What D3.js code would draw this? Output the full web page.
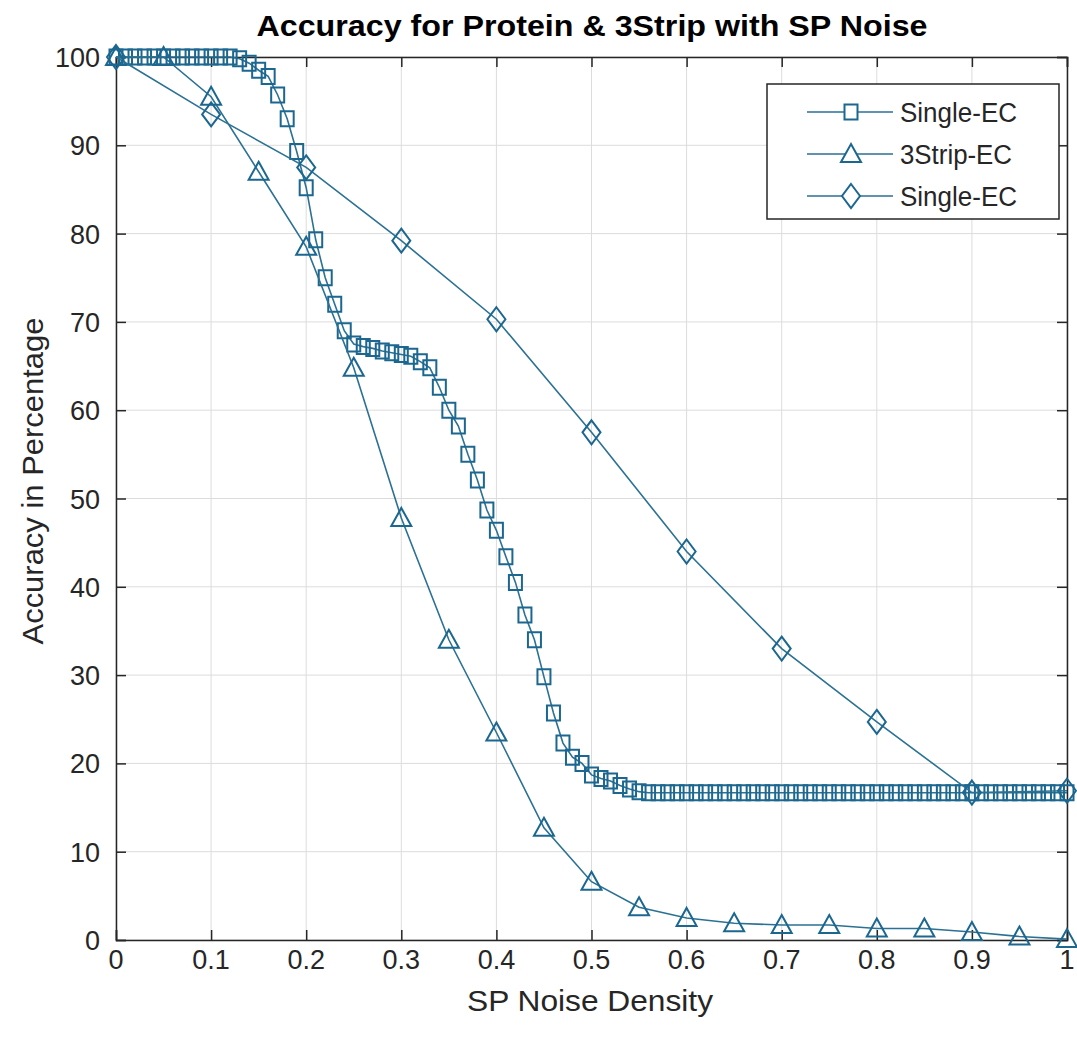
<!DOCTYPE html>
<html>
<head>
<meta charset="utf-8">
<script src="https://cdn.jsdelivr.net/npm/d3@7"></script>
<style>
  body { margin: 0; background: #fff; }
  text { font-family: "Liberation Sans", Arial, sans-serif; fill: #262626; }
</style>
</head>
<body>
<script>
const width = 1077;
const height = 1051;
const margin = { top: 57, right: 10, bottom: 111, left: 116 };

// Single-EC (squares), sampled every 0.01
const singleY = [
    100, 100, 100, 100, 100, 100, 100, 100, 100, 100, 100, 100,
    100, 99.8, 99.3, 98.5, 97.8, 95.7, 93, 89.3, 85.2, 79.3,
    75, 72, 69, 67.5, 67.2, 67, 66.7, 66.5, 66.3, 66.1,
    65.5, 64.8, 62.6, 60, 58.2, 55, 52.1, 48.7, 46.4, 43.4,
    40.5, 36.8, 34, 29.8, 25.7, 22.3, 20.7, 20, 18.7, 18.3,
    18, 17.5, 17.1, 16.8,
    16.67, 16.67, 16.67, 16.67, 16.67, 16.67, 16.67, 16.67, 16.67, 16.67,
    16.67, 16.67, 16.67, 16.67, 16.67, 16.67, 16.67, 16.67, 16.67, 16.67,
    16.67, 16.67, 16.67, 16.67, 16.67, 16.67, 16.67, 16.67, 16.67, 16.67,
    16.67, 16.67, 16.67, 16.67, 16.67, 16.67, 16.67, 16.67, 16.67, 16.67,
    16.67, 16.67, 16.67, 16.67, 16.67
];

// 3Strip-EC (triangles), every 0.05
const stripY = [100, 100, 95.5, 87, 78.5, 64.8, 47.8, 34, 23.5, 12.7, 6.6,
    3.7, 2.5, 1.9, 1.7, 1.7, 1.3, 1.3, 0.9, 0.4, 0.1];

// second Single-EC (diamonds), every 0.1
const diamondY = [100, 93.5, 87.5, 79.2, 70.3, 57.5, 44, 33, 24.7, 16.7, 16.9];

const xTicks = [0, 0.1, 0.2, 0.3, 0.4, 0.5, 0.6, 0.7, 0.8, 0.9, 1];
const yTicks = [0, 10, 20, 30, 40, 50, 60, 70, 80, 90, 100];
const legendNames = ['Single-EC', '3Strip-EC', 'Single-EC'];

const lineColor = '#2b7193';
const markColor = '#1c6790';

const series = [
    { name: legendNames[0], shape: 'square', step: 0.01, values: singleY },
    { name: legendNames[1], shape: 'triangle', step: 0.05, values: stripY },
    { name: legendNames[2], shape: 'diamond', step: 0.1, values: diamondY }
];

const x = d3.scaleLinear().domain([0, 1]).range([margin.left, width - margin.right]);
const y = d3.scaleLinear().domain([0, 100]).range([height - margin.bottom, margin.top]);

function shapePath(shape) {
    if (shape === 'square') return 'M-6.5,-7.5H6.5V7.5H-6.5Z';
    if (shape === 'triangle') return 'M0,-10L10,8H-10Z';
    return 'M0,-12L9,0L0,12L-9,0Z';
}

const svg = d3.select('body')
    .append('svg')
    .attr('width', width)
    .attr('height', height);

// grid
svg.append('g')
    .selectAll('line')
    .data(xTicks)
    .enter().append('line')
    .attr('x1', d => x(d)).attr('x2', d => x(d))
    .attr('y1', y(0)).attr('y2', y(100))
    .style('stroke', '#dcdcdc');

svg.append('g')
    .selectAll('line')
    .data(yTicks)
    .enter().append('line')
    .attr('x1', x(0)).attr('x2', x(1))
    .attr('y1', d => y(d)).attr('y2', d => y(d))
    .style('stroke', '#dcdcdc');

// axes with inward ticks on all four sides
const xAxis = svg.append('g')
    .attr('transform', `translate(0,${y(0)})`)
    .call(d3.axisTop(x).tickValues(xTicks).tickSize(10).tickFormat(''));
const xAxisTop = svg.append('g')
    .attr('transform', `translate(0,${y(100)})`)
    .call(d3.axisBottom(x).tickValues(xTicks).tickSize(10).tickFormat(''));
const yAxis = svg.append('g')
    .attr('transform', `translate(${x(0)},0)`)
    .call(d3.axisRight(y).tickValues(yTicks).tickSize(10).tickFormat(''));
const yAxisRight = svg.append('g')
    .attr('transform', `translate(${x(1)},0)`)
    .call(d3.axisLeft(y).tickValues(yTicks).tickSize(10).tickFormat(''));

[xAxis, xAxisTop, yAxis, yAxisRight].forEach(a => {
    a.selectAll('path, line').style('stroke', '#262626').style('stroke-width', 1.5);
});

svg.append('g')
    .selectAll('text')
    .data(xTicks)
    .enter().append('text')
    .attr('x', d => x(d))
    .attr('y', 969)
    .attr('text-anchor', 'middle')
    .style('font-size', '27px')
    .text(d => d);

svg.append('g')
    .selectAll('text')
    .data(yTicks)
    .enter().append('text')
    .attr('x', 100)
    .attr('y', d => y(d) + 10)
    .attr('text-anchor', 'end')
    .style('font-size', '27px')
    .text(d => d);

// series
const line = d3.line().x(d => x(d[0])).y(d => y(d[1]));

series.forEach(s => {
    const pts = s.values.map((v, i) => [i * s.step, v]);
    svg.append('path')
        .datum(pts)
        .attr('d', line)
        .style('fill', 'none')
        .style('stroke', lineColor)
        .style('stroke-width', 1.6);
    svg.append('g')
        .selectAll('path')
        .data(pts)
        .enter().append('path')
        .attr('transform', d => `translate(${x(d[0])},${y(d[1])})`)
        .attr('d', shapePath(s.shape))
        .style('fill', 'none')
        .style('stroke', markColor)
        .style('stroke-width', 2);
});

// title and labels
svg.append('text')
    .attr('x', 592)
    .attr('y', 36)
    .attr('text-anchor', 'middle')
    .attr('textLength', 671)
    .attr('lengthAdjust', 'spacingAndGlyphs')
    .style('font-size', '30px')
    .style('font-weight', 'bold')
    .style('fill', '#000')
    .text('Accuracy for Protein & 3Strip with SP Noise');

svg.append('text')
    .attr('x', 590)
    .attr('y', 1011)
    .attr('text-anchor', 'middle')
    .attr('textLength', 246)
    .attr('lengthAdjust', 'spacingAndGlyphs')
    .style('font-size', '30px')
    .text('SP Noise Density');

svg.append('text')
    .attr('transform', 'translate(43,481) rotate(-90)')
    .attr('text-anchor', 'middle')
    .attr('textLength', 327)
    .attr('lengthAdjust', 'spacingAndGlyphs')
    .style('font-size', '30px')
    .text('Accuracy in Percentage');

// legend
const legend = svg.append('g');
legend.append('rect')
    .attr('x', 767).attr('y', 84)
    .attr('width', 292).attr('height', 135)
    .style('fill', '#fff')
    .style('stroke', '#262626')
    .style('stroke-width', 1.5);

const entry = legend.selectAll('g.entry')
    .data(series)
    .enter().append('g')
    .attr('class', 'entry')
    .attr('transform', (d, i) => `translate(0,${112 + i * 42})`);

entry.append('line')
    .attr('x1', 807).attr('x2', 893)
    .style('stroke', lineColor)
    .style('stroke-width', 1.6);

entry.append('path')
    .attr('transform', 'translate(851,0)')
    .attr('d', d => shapePath(d.shape))
    .style('fill', '#fff')
    .style('stroke', markColor)
    .style('stroke-width', 2);

entry.append('text')
    .attr('x', 900)
    .attr('y', 10)
    .attr('textLength', d => d.name === '3Strip-EC' ? 112 : 117)
    .attr('lengthAdjust', 'spacingAndGlyphs')
    .style('font-size', '27px')
    .text(d => d.name);
</script>
</body>
</html>
